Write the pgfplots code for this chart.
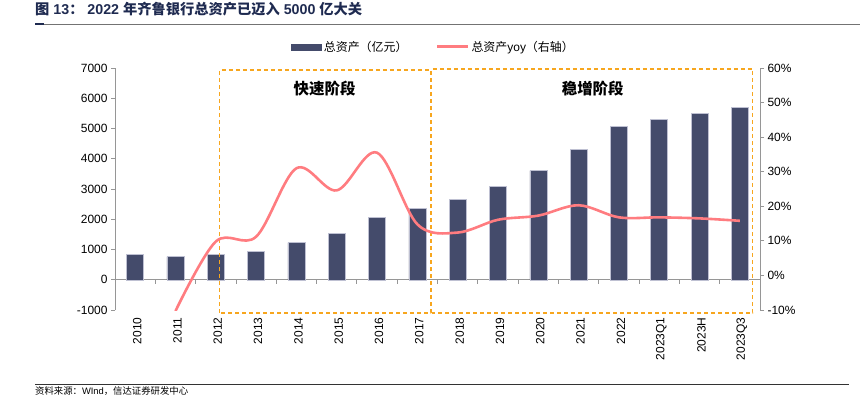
\documentclass[border=0pt]{standalone}
\usepackage{pgfplots}
\pgfplotsset{compat=1.18}
\usepackage{pgfplotstable}
\usepackage{fontspec}
\setmainfont{Liberation Sans}
\newfontfamily\cjk{Noto Sans CJK SC}
\definecolor{barcol}{RGB}{68,75,107}
\definecolor{baredge}{RGB}{190,192,210}
\definecolor{linecol}{RGB}{255,124,128}
\definecolor{dashcol}{RGB}{247,166,30}
\definecolor{titlecol}{RGB}{30,42,80}
\definecolor{axcol}{RGB}{150,150,150}

\pgfplotstableread{
x val
0 851
1 763
2 840
3 940
4 1226
5 1534
6 2064
7 2361
8 2647
9 3077
10 3606
11 4322
12 5060
13 5292
14 5512
15 5688
}\assets

\pgfplotstableread{
x yoy
1 -10.3
2 9.8
3 11.2
4 31.0
5 24.6
6 35.5
7 14.8
8 12.4
9 16.1
10 17.3
11 20.3
12 16.8
13 16.8
14 16.5
15 15.8
}\yoy

\begin{document}
\begin{tikzpicture}
\path[use as bounding box] (0bp,0bp) rectangle (860bp,-399bp);
% title
\node[anchor=west, inner sep=0pt, text=titlecol, font=\bfseries\fontsize{14.3}{16}\selectfont] at (35bp,-9bp)
  {{\cjk 图} 13{\cjk ：} 2022 {\cjk 年齐鲁银行总资产已迈入} 5000 {\cjk 亿大关}};
\draw[black!55, line width=0.8bp] (35bp,-24bp) -- (860bp,-24bp);
\draw[titlecol, line width=1.4bp] (35bp,-24bp) -- (44bp,-24bp);
% source
\draw[black!80, line width=0.8bp] (35bp,-384bp) -- (849bp,-384bp);
\node[anchor=west, inner sep=0pt, font=\fontsize{9.4}{11}\selectfont] at (35bp,-391.5bp)
  {{\cjk 资料来源：}WInd{\cjk ，信达证券研发中心}};

\begin{axis}[
  at={(115bp,-310bp)}, anchor=south west,
  scale only axis, width=645bp, height=242bp,
  xmin=-0.5, xmax=15.5, ymin=-1000, ymax=7000,
  axis y line*=left, axis x line*=bottom,
  axis line style={-, axcol, line width=0.8bp},
  x axis line style={draw=none},
  xtick={0,...,15},
  xticklabels={2010,2011,2012,2013,2014,2015,2016,2017,2018,2019,2020,2021,2022,2023Q1,2023H,2023Q3},
  major x tick style={draw=none},
  xticklabel style={rotate=90, anchor=east, font=\fontsize{12}{14}\selectfont, yshift=-2bp},
  ytick={-1000,0,1000,2000,3000,4000,5000,6000,7000},
  yticklabel style={font=\fontsize{12}{14}\selectfont},
  major y tick style={axcol, line width=0.8bp},
  tick align=outside, major tick length=4bp,
  /pgf/number format/assume math mode=true,
  /pgf/number format/set thousands separator={},
  clip=false,
]
\draw[axcol, line width=0.8bp] (axis cs:-0.5,0) -- (axis cs:15.5,0);
\draw[axcol, line width=0.8bp]
  (axis cs:-0.5,0) -- (axis cs:-0.5,-132) (axis cs:0.5,0) -- (axis cs:0.5,-132)
  (axis cs:1.5,0) -- (axis cs:1.5,-132) (axis cs:2.5,0) -- (axis cs:2.5,-132)
  (axis cs:3.5,0) -- (axis cs:3.5,-132) (axis cs:4.5,0) -- (axis cs:4.5,-132)
  (axis cs:5.5,0) -- (axis cs:5.5,-132) (axis cs:6.5,0) -- (axis cs:6.5,-132)
  (axis cs:7.5,0) -- (axis cs:7.5,-132) (axis cs:8.5,0) -- (axis cs:8.5,-132)
  (axis cs:9.5,0) -- (axis cs:9.5,-132) (axis cs:10.5,0) -- (axis cs:10.5,-132)
  (axis cs:11.5,0) -- (axis cs:11.5,-132) (axis cs:12.5,0) -- (axis cs:12.5,-132)
  (axis cs:13.5,0) -- (axis cs:13.5,-132) (axis cs:14.5,0) -- (axis cs:14.5,-132)
  (axis cs:15.5,0) -- (axis cs:15.5,-132);
\addplot[ybar, bar width=17bp, fill=barcol, draw=baredge, line width=0.5bp] table[x=x,y=val]{\assets};
\draw[dashcol, line width=1.2bp, dash pattern=on 4bp off 3bp] (axis cs:2.10,-1100) rectangle (axis cs:7.33,6934);
\draw[dashcol, line width=1.2bp, dash pattern=on 4bp off 3bp] (axis cs:7.36,-1099) rectangle (axis cs:15.32,6967);
\node[font=\cjk\bfseries\fontsize{15.5}{17}\selectfont] at (axis cs:4.70,6329) {快速阶段};
\node[font=\cjk\bfseries\fontsize{15.5}{17}\selectfont] at (axis cs:11.35,6329) {稳增阶段};
\end{axis}

\begin{axis}[
  at={(115bp,-310bp)}, anchor=south west,
  scale only axis, width=645bp, height=242bp,
  xmin=-0.5, xmax=15.5, ymin=-10, ymax=60,
  axis y line*=right, axis x line=none,
  axis line style={-, axcol, line width=0.8bp},
  xtick=\empty,
  ytick={-10,0,10,20,30,40,50,60},
  yticklabel={\pgfmathprintnumber{\tick}\%},
  yticklabel style={font=\fontsize{12}{14}\selectfont},
  major y tick style={axcol, line width=0.8bp},
  tick align=outside, major tick length=4bp,
  /pgf/number format/assume math mode=true,
  legend columns=2,
  legend style={at={(0.494,1.088)}, anchor=center, draw=none, fill=none,
    font=\fontsize{12}{14}\selectfont, inner sep=0pt,
    /tikz/every even column/.append style={column sep=26bp}},
  legend cell align=left,
]
\addlegendimage{legend image code/.code={\fill[barcol] (0bp,-3bp) rectangle (30bp,3bp);}}
\addlegendentry{\cjk 总资产（亿元）}
\addplot[linecol, line width=2.6bp, smooth, tension=0.55, mark=none,
  legend image code/.code={\draw[linecol, line width=3bp] (0bp,0bp) -- (31bp,0bp);}]
  table[x=x,y=yoy]{\yoy};
\addlegendentry{{\cjk 总资产}yoy{\cjk （右轴）}}
\end{axis}
\end{tikzpicture}
\end{document}
